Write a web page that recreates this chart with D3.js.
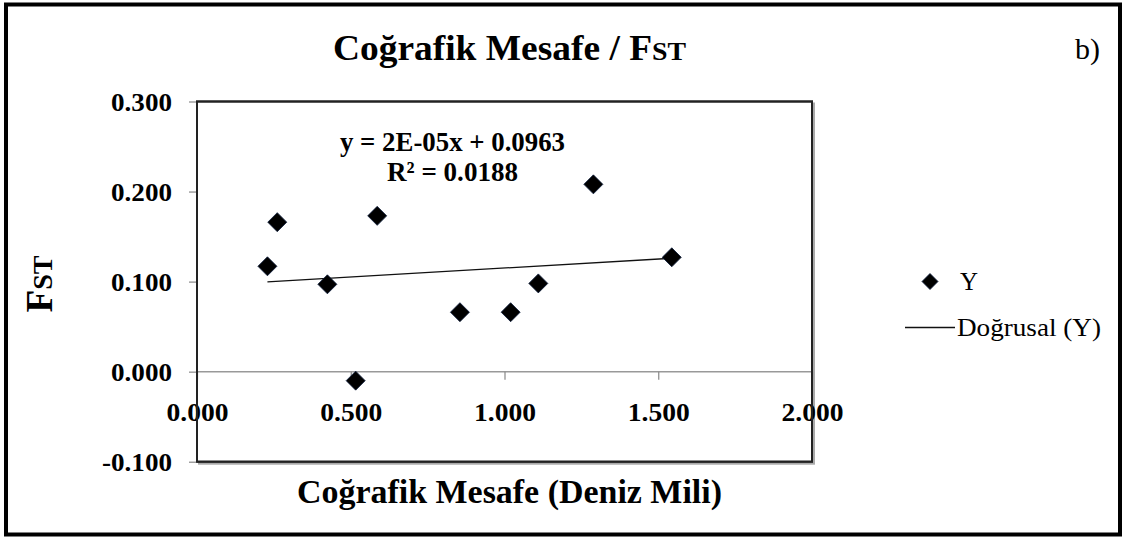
<!DOCTYPE html>
<html>
<head>
<meta charset="utf-8">
<script src="https://cdn.jsdelivr.net/npm/d3@7"></script>
<style>
  html, body { margin: 0; padding: 0; background: #fff; }
  svg { display: block; }
  text { font-family: "Liberation Serif", "Times New Roman", serif; fill: #000; }
</style>
</head>
<body>
<svg id="chart" width="1124" height="537"></svg>
<script>
// ---- data ----
const distance = [229, 261, 424, 516, 586, 855, 1020, 1110, 1289, 1544];
const fst      = [0.117, 0.166, 0.097, -0.010, 0.173, 0.066, 0.066, 0.098, 0.208, 0.127];
const xTickValues = [0, 500, 1000, 1500, 2000];
const xTickLabels = ["0.000", "0.500", "1.000", "1.500", "2.000"];
const yTickValues = [-0.1, 0, 0.1, 0.2, 0.3];
const yTickLabels = ["-0.100", "0.000", "0.100", "0.200", "0.300"];
const titleMain = "Coğrafik Mesafe / F";
const titleSub = "ST";
const xTitle = "Coğrafik Mesafe (Deniz Mili)";
const equationText = "y = 2E-05x + 0.0963";
const r2Text = "R² = 0.0188";
const legendLabels = ["Y", "Doğrusal (Y)"];
const panelLabel = "b)";

const svg = d3.select("#chart");
const plot = { left: 197, right: 812, top: 101.5, bottom: 461.7 };

const x = d3.scaleLinear().domain([0, 2000]).range([plot.left, plot.right]);
const y = d3.scaleLinear().domain([-0.1, 0.3]).range([plot.bottom, plot.top]);

function fit(sel, w) { return sel.attr("textLength", w).attr("lengthAdjust", "spacingAndGlyphs"); }

// outer frame
svg.append("rect").attr("x", 6).attr("y", 4.5).attr("width", 1114).attr("height", 530)
  .attr("fill", "#fff").attr("stroke", "#000").attr("stroke-width", 4);

// plot area shadow + border
svg.append("rect").attr("x", plot.left + 2).attr("y", plot.top + 2)
  .attr("width", plot.right - plot.left).attr("height", plot.bottom - plot.top)
  .attr("fill", "none").attr("stroke", "#aaa").attr("stroke-width", 2);
svg.append("rect").attr("x", plot.left).attr("y", plot.top)
  .attr("width", plot.right - plot.left).attr("height", plot.bottom - plot.top)
  .attr("fill", "#fff").attr("stroke", "#222").attr("stroke-width", 2);

// y axis ticks (left)
const yAxis = d3.axisLeft(y).tickValues(yTickValues).tickSize(8).tickFormat((d, i) => yTickLabels[i]);
const gy = svg.append("g").attr("transform", `translate(${plot.left},0)`).call(yAxis);
gy.select(".domain").remove();
gy.selectAll(".tick line").attr("stroke", "#888").attr("stroke-width", 1.2);
gy.selectAll(".tick text").attr("x", -25).attr("dy", "0.36em")
  .style("font-family", '"Liberation Serif", serif').style("font-size", "25px").style("font-weight", "bold")
  .each(function(d, i) { fit(d3.select(this), yTickLabels[i].length > 5 ? 70 : 61); });

// x axis at y = 0
const xAxis = d3.axisBottom(x).tickValues(xTickValues).tickSize(8).tickFormat((d, i) => xTickLabels[i]);
const gx = svg.append("g").attr("transform", `translate(0,${y(0)})`).call(xAxis);
gx.select(".domain").attr("stroke", "#999").attr("stroke-width", 1.5).attr("d", `M${plot.left},0H${plot.right}`);
gx.selectAll(".tick line").attr("stroke", "#888").attr("stroke-width", 1.2);
gx.selectAll(".tick text").attr("y", 40).attr("dy", "0.36em")
  .style("font-family", '"Liberation Serif", serif').style("font-size", "25px").style("font-weight", "bold")
  .each(function() { fit(d3.select(this), 62); });

// plot border on top of zero line edges
svg.append("rect").attr("x", plot.left).attr("y", plot.top)
  .attr("width", plot.right - plot.left).attr("height", plot.bottom - plot.top)
  .attr("fill", "none").attr("stroke", "#222").attr("stroke-width", 2);

// trend line (least squares from data)
const mx = d3.mean(distance), my = d3.mean(fst);
let sxy = 0, sxx = 0;
distance.forEach((d, i) => { sxy += (d - mx) * (fst[i] - my); sxx += (d - mx) * (d - mx); });
const slope = sxy / sxx, intercept = my - slope * mx;
const xMin = d3.min(distance), xMax = d3.max(distance);
svg.append("line")
  .attr("x1", x(xMin)).attr("y1", y(intercept + slope * xMin))
  .attr("x2", x(xMax)).attr("y2", y(intercept + slope * xMax))
  .attr("stroke", "#111").attr("stroke-width", 1.3);

// diamond symbol (square rotated 45deg)
const diamond = { draw(ctx, size) { const r = Math.sqrt(size) / 2; ctx.moveTo(0, -r); ctx.lineTo(r, 0); ctx.lineTo(0, r); ctx.lineTo(-r, 0); ctx.closePath(); } };
svg.append("g").selectAll("path").data(distance).join("path")
  .attr("transform", (d, i) => `translate(${x(d)},${y(fst[i])})`)
  .attr("d", d3.symbol().type(diamond).size(19 * 19))
  .attr("fill", "#000").attr("stroke", "#0a1a3a").attr("stroke-width", 0.8);

// equation text
fit(svg.append("text").attr("x", 452.5).attr("y", 150.5).attr("text-anchor", "middle")
  .style("font-size", "28px").style("font-weight", "bold").text(equationText), 225);
fit(svg.append("text").attr("x", 452.5).attr("y", 181).attr("text-anchor", "middle")
  .style("font-size", "28px").style("font-weight", "bold").text(r2Text), 131);

// title
const t = svg.append("text").attr("x", 509.5).attr("y", 60).attr("text-anchor", "middle")
  .style("font-size", "35px").style("font-weight", "bold");
t.append("tspan").text(titleMain);
t.append("tspan").style("font-size", "26px").text(titleSub);
fit(t, 353);

// panel label
fit(svg.append("text").attr("x", 1075).attr("y", 59).style("font-size", "29px").text(panelLabel), 25);

// x axis title
fit(svg.append("text").attr("x", 509.5).attr("y", 503).attr("text-anchor", "middle")
  .style("font-size", "34px").style("font-weight", "bold").text(xTitle), 425);

// y axis title
const yt = svg.append("text").attr("transform", "translate(52,284) rotate(-90)").attr("text-anchor", "middle")
  .style("font-size", "37px").style("font-weight", "bold");
yt.append("tspan").text("F");
yt.append("tspan").style("font-size", "28px").text("ST");
fit(yt, 57);

// legend
const lg = svg.append("g");
lg.append("path").attr("transform", "translate(930,281.5)")
  .attr("d", d3.symbol().type(diamond).size(16 * 16)).attr("fill", "#000").attr("stroke", "#0a1a3a").attr("stroke-width", 0.8);
fit(lg.append("text").attr("x", 960).attr("y", 290).style("font-size", "26px").text(legendLabels[0]), 18);
lg.append("line").attr("x1", 905).attr("x2", 955).attr("y1", 327.5).attr("y2", 327.5).attr("stroke", "#111").attr("stroke-width", 1.3);
fit(lg.append("text").attr("x", 957).attr("y", 336).style("font-size", "26px").text(legendLabels[1]), 144);
</script>
</body>
</html>
